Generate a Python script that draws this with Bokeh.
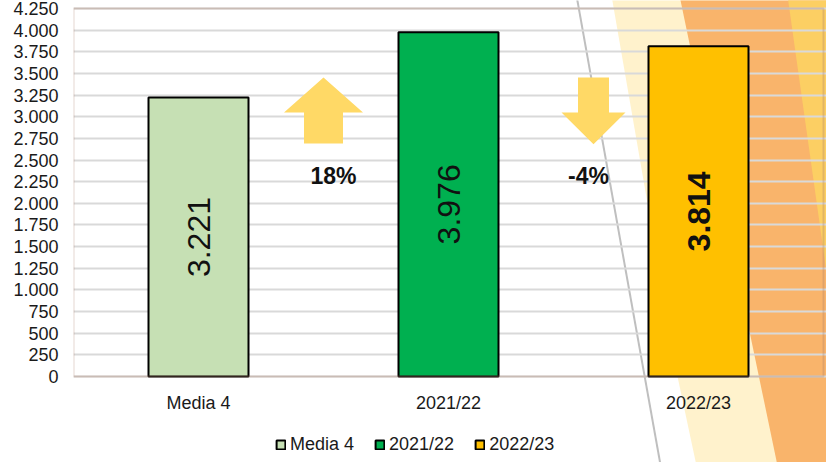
import math
from bokeh.plotting import figure
from bokeh.models import (ColumnDataSource, FixedTicker, Legend, LegendItem,
                          BoxAnnotation, Range1d, LinearAxis)
from bokeh.core.properties import value
from bokeh.embed import file_html
from bokeh.resources import INLINE

# ---- data ----
categories = ["Media 4", "2021/22", "2022/23"]
values = [3221, 3976, 3814]
bar_colors = ["#C6E0B4", "#00B050", "#FFC000"]
value_labels = ["3.221", "3.976", "3.814"]
value_label_styles = ["normal", "normal", "bold"]
change_labels = ["18%", "-4%"]
change_direction = ["up", "down"]
y_ticks = list(range(0, 4251, 250))
y_tick_labels = [f"{t:,}".replace(",", ".") for t in y_ticks]

SANS = "Liberation Sans"
W, H = 826, 462
LEFT = 73              # left panel width (px)
PX_PER_CAT = 250.0     # px per category
Y0_PX, YTOP_PX = 376, 8  # canvas px of value 0 and of the top tick
YMAX = y_ticks[-1]
ppu = (Y0_PX - YTOP_PX) / YMAX

x_end = (W - LEFT) / PX_PER_CAT
y_start = -(H - Y0_PX) / ppu
y_end = YMAX + YTOP_PX / ppu

x_centers = [i + 0.5 for i in range(len(categories))]

p = figure(width=W, height=H, x_range=Range1d(0, x_end), y_range=Range1d(y_start, y_end),
           output_backend="svg", toolbar_location=None, x_axis_location=None,
           min_border_left=LEFT, min_border_right=0, min_border_top=0, min_border_bottom=0)
p.background_fill_color = "white"
p.border_fill_color = "white"
p.outline_line_color = None

def dx(px):
    return (px - LEFT) / PX_PER_CAT

def dy(py):
    return (Y0_PX - py) / ppu

# ---- background decorations (given in canvas px, converted to data) ----
def deco(pts, fill=None, line=None, lw=0):
    xs = [dx(a) for a, _ in pts]
    ys = [dy(b) for _, b in pts]
    if fill:
        p.patch(xs, ys, fill_color=fill, line_color=None, level="image")
    else:
        p.line(xs, ys, line_color=line, line_width=lw, level="image")

deco([(611, -5), (840, -5), (840, 470), (697, 470), (677, 376)], fill="#FFF2CC")
deco([(679, -5), (840, -5), (840, 470), (778, 470)], fill="#F9B46B")
deco([(787, -5), (840, -5), (840, 371)], fill="#FCCF63")
deco([(576, -5), (661, 470)], line="#BFBFBF", lw=2)

# ---- grid / axes ----
p.ygrid.ticker = FixedTicker(ticks=y_ticks)
p.ygrid.grid_line_color = "#D9D9D9"
p.ygrid.grid_line_width = 2
p.xgrid.grid_line_color = None

p.yaxis.ticker = FixedTicker(ticks=y_ticks)
p.yaxis.bounds = (0, YMAX)
p.yaxis.major_label_overrides = {t: l for t, l in zip(y_ticks, y_tick_labels)}
p.yaxis.axis_line_color = None
p.yaxis.major_tick_line_color = None
p.yaxis.minor_tick_line_color = None
p.yaxis.major_tick_out = 0
p.yaxis.major_label_text_font = SANS
p.yaxis.major_label_text_font_size = "18px"
p.yaxis.major_label_text_color = "#1A1A1A"
p.yaxis.major_label_standoff = 15

xaxis = LinearAxis(fixed_location=0, ticker=FixedTicker(ticks=x_centers),
                   major_label_overrides={x: c for x, c in zip(x_centers, categories)},
                   axis_line_color=None, major_tick_line_color=None,
                   minor_tick_line_color=None, major_tick_out=0,
                   major_label_text_font=SANS, major_label_text_font_size="18px",
                   major_label_text_color="#1A1A1A", major_label_standoff=16)
p.add_layout(xaxis, "below")

# ---- arrows ----
arrow_xs, arrow_ys = [], []
for i, d in enumerate(change_direction):
    cx = i + 1.0 + (0.0 if d == "up" else 0.08)
    hw_head = 0.158 if d == "up" else 0.128
    hw_shaft = 0.078 if d == "up" else 0.062
    y_top, y_mid, y_bot = 3453, 3049, 2691
    if d == "up":
        arrow_xs.append([cx, cx + hw_head, cx + hw_shaft, cx + hw_shaft,
                         cx - hw_shaft, cx - hw_shaft, cx - hw_head])
        arrow_ys.append([y_top, y_mid, y_mid, y_bot, y_bot, y_mid, y_mid])
    else:
        arrow_xs.append([cx, cx + hw_head, cx + hw_shaft, cx + hw_shaft,
                         cx - hw_shaft, cx - hw_shaft, cx - hw_head])
        arrow_ys.append([y_bot - 10, y_mid, y_mid, y_top, y_top, y_mid, y_mid])
p.patches(xs=arrow_xs, ys=arrow_ys, fill_color="#FFD966", line_color=None)

# ---- bars ----
src = ColumnDataSource(dict(x=x_centers, top=values, color=bar_colors, cat=categories,
                            lab=value_labels, mid=[v / 2 for v in values],
                            style=value_label_styles))
bars = p.vbar(x="x", top="top", width=0.4, source=src, fill_color="color",
              line_color="black", line_width=2)

p.text(x="x", y="mid", text="lab", source=src, angle=math.pi / 2,
       text_align="center", text_baseline="middle", text_font=value(SANS),
       text_font_size="32px", text_font_style="style", text_color="#111111")

csrc = ColumnDataSource(dict(x=[i + 1.0 + (0.04 if d == "up" else 0.06)
                                for i, d in enumerate(change_direction)],
                             y=[2310] * len(change_labels), t=change_labels))
p.text(x="x", y="y", text="t", source=csrc, text_align="center",
       text_baseline="middle", text_font=value(SANS), text_font_size="23px",
       text_font_style="bold", text_color="#111111")

# ---- plot-area border ----
p.add_layout(BoxAnnotation(left=0, right=len(categories), bottom=0, top=YMAX,
                           fill_alpha=0, line_color="#A47B62", line_width=2))

# ---- legend ----
items = [LegendItem(label=c, renderers=[bars], index=i) for i, c in enumerate(categories)]
legend = Legend(items=items, orientation="horizontal", location=(202, 7),
                label_text_font=SANS, label_text_font_size="18px",
                label_text_color="#1A1A1A", glyph_width=11, glyph_height=11,
                label_standoff=4, spacing=20, padding=0, margin=0,
                border_line_color=None, background_fill_alpha=0)
p.add_layout(legend)

open("out.html", "w").write(file_html(p, INLINE))
